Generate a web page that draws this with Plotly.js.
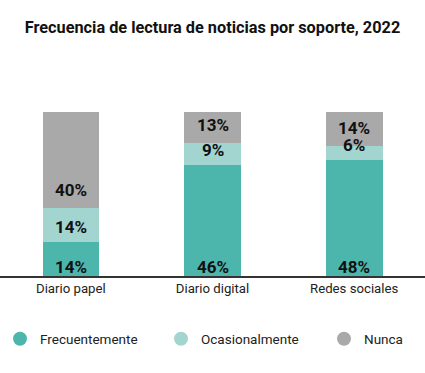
<!DOCTYPE html>
<html>
<head>
<meta charset="utf-8">
<script src="https://cdn.plot.ly/plotly-3.0.1.min.js"></script>
<style>html,body{margin:0;padding:0;background:#fff;}#chart{width:425px;height:373px;}</style>
</head>
<body>
<div id="chart"></div>
<script>
const categories = ["Diario papel", "Diario digital", "Redes sociales"];
const frecuentemente = [14, 46, 48];
const ocasionalmente = [14, 9, 6];
const nunca = [40, 13, 14];
const seriesNames = ["Frecuentemente", "Ocasionalmente", "Nunca"];
const colors = ["#4db6ac", "#a3d5d0", "#a9a9a9"];
const seriesValues = [frecuentemente, ocasionalmente, nunca];

const FONT = "Roboto, 'Noto Sans', sans-serif";
// vertical pixel offset of each series' value label above its segment's base
const labelShift = [9, 15, 18];
// legend placement (left edge, px) for each series
const legendLeft = [0, 161, 324];

const traces = [];
const annotations = [];
const bases = categories.map(() => 0);
seriesValues.forEach((vals, i) => {
  traces.push({
    type: "bar",
    x: categories,
    y: vals,
    name: seriesNames[i],
    marker: {color: colors[i], line: {width: 0}},
    hoverinfo: "none",
    showlegend: false
  });
  vals.forEach((v, j) => {
    annotations.push({
      x: categories[j], y: bases[j], xref: "x", yref: "y",
      text: "<b>" + v + "%</b>",
      showarrow: false,
      xanchor: "center", yanchor: "middle",
      yshift: labelShift[i],
      font: {family: FONT, size: 17, color: "#111"}
    });
    bases[j] += v;
  });
});
seriesNames.forEach((n, i) => {
  traces.push({
    type: "scatter",
    mode: "markers",
    x: [null],
    y: [null],
    name: n,
    legend: i === 0 ? "legend" : "legend" + (i + 1),
    marker: {color: colors[i], size: 14, symbol: "circle"},
    showlegend: true,
    hoverinfo: "none"
  });
});

function legendCfg(i) {
  return {
    orientation: "h",
    x: legendLeft[i] / 425, xanchor: "left", xref: "paper",
    y: 1 - 339 / 373, yref: "container", yanchor: "middle",
    font: {family: FONT, size: 13.5, color: "#222"},
    itemwidth: 30,
    bgcolor: "rgba(0,0,0,0)",
    borderwidth: 0
  };
}

const layout = {
  width: 425,
  height: 373,
  margin: {l: 0, r: 0, t: 112, b: 97},
  paper_bgcolor: "#fff",
  plot_bgcolor: "#fff",
  barmode: "stack",
  bargap: 0.6,
  title: {
    text: "<b>Frecuencia de lectura de noticias por soporte, 2022</b>",
    font: {family: FONT, size: 16.3, color: "#111"},
    x: 0.5, xanchor: "center",
    y: 1 - 27 / 373, yanchor: "middle", yref: "container"
  },
  xaxis: {
    type: "category",
    showline: true, linecolor: "#333", linewidth: 1.5,
    ticks: "", showgrid: false, zeroline: false,
    tickfont: {family: FONT, size: 13.2, color: "#222"},
    fixedrange: true
  },
  yaxis: {
    range: [0, 68],
    visible: false, showgrid: false, zeroline: false,
    fixedrange: true
  },
  showlegend: true,
  legend: legendCfg(0),
  legend2: legendCfg(1),
  legend3: legendCfg(2),
  annotations: annotations
};

Plotly.newPlot("chart", traces, layout, {displayModeBar: false, staticPlot: true});
</script>
</body>
</html>
